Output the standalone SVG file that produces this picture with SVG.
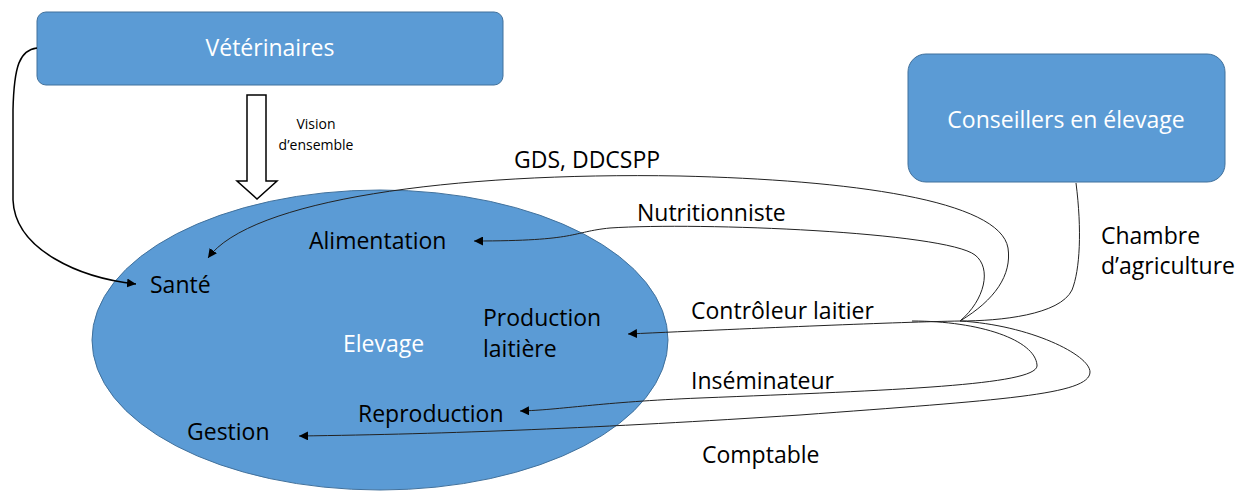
<svg xmlns="http://www.w3.org/2000/svg" width="1251" height="492" viewBox="0 0 1251 492">
<defs>
<style>
.box{fill:#5B9BD5;stroke:#41719C;stroke-width:1}
.wt{font-family:"Open Sans","Liberation Sans",sans-serif;font-size:23px;fill:#ffffff}
.lb{font-family:"Open Sans","Liberation Sans",sans-serif;font-size:23px;fill:#000000}
.sm{font-family:"Open Sans","Liberation Sans",sans-serif;font-size:14px;fill:#000000}
.cn{fill:none;stroke:#222;stroke-width:1}
</style>
<marker id="ah" viewBox="0 0 10 10" refX="10" refY="5" markerWidth="9" markerHeight="9" markerUnits="userSpaceOnUse" orient="auto">
<path d="M0,0 L10,5 L0,10 Z" fill="#000"/>
</marker>
</defs>
<rect width="1251" height="492" fill="#ffffff"/>
<g id="elevage">
<ellipse class="box" cx="380" cy="340" rx="288" ry="150"/>
<text class="wt" x="343" y="352">Elevage</text>
<text class="lb" x="150" y="293">Santé</text>
<text class="lb" x="309" y="249">Alimentation</text>
<text class="lb" x="483" y="326">Production</text>
<text class="lb" x="483" y="357">laitière</text>
<text class="lb" x="358" y="422">Reproduction</text>
<text class="lb" x="187" y="440">Gestion</text>
</g>
<g id="veterinaires">
<rect class="box" x="37" y="12" width="466" height="73" rx="9"/>
<text class="wt" x="270" y="56" text-anchor="middle">Vétérinaires</text>
</g>
<g id="conseillers">
<rect class="box" x="908" y="54" width="317" height="128" rx="18"/>
<text class="wt" x="1066" y="128" text-anchor="middle">Conseillers en élevage</text>
</g>
<g id="connectors">
<polygon points="247,95 266,95 266,181 277,181 257,199 237,181 247,181" fill="#fff" stroke="#000" stroke-width="1.5"/>
<path d="M37,48 C20,50 14,65 13,110 L13,200 C15,250 80,278 136,284" fill="none" stroke="#000" stroke-width="1.5" marker-end="url(#ah)"/>
<path class="cn" d="M960,321 C995,300 1012,275 1008,248 C1000,200 850,180 680,176 C450,172 250,200 208,258" marker-end="url(#ah)"/>
<path class="cn" d="M960,321 C985,300 992,268 975,255 C945,232 700,222 610,228 C570,232 580,241 474,241" marker-end="url(#ah)"/>
<path class="cn" d="M960,321 C900,322 760,328 628,334" marker-end="url(#ah)"/>
<path class="cn" d="M1076,183 C1082,230 1080,270 1072,290 C1060,315 1000,321 960,321"/>
<path class="cn" d="M912,321 C980,321 1035,340 1037,365 C1040,385 900,390 700,398 C600,402 560,410 520,411" marker-end="url(#ah)"/>
<path class="cn" d="M960,321 C1030,325 1090,355 1090,372 C1090,395 1000,400 800,415 C600,428 450,434 299,436" marker-end="url(#ah)"/>
<text class="sm" x="316" y="129" text-anchor="middle">Vision</text>
<text class="sm" x="316" y="150" text-anchor="middle">d’ensemble</text>
<text class="lb" x="514" y="168">GDS, DDCSPP</text>
<text class="lb" x="637" y="221">Nutritionniste</text>
<text class="lb" x="1101" y="244">Chambre</text>
<text class="lb" x="1101" y="274">d’agriculture</text>
<text class="lb" x="691" y="319">Contrôleur laitier</text>
<text class="lb" x="691" y="389">Inséminateur</text>
<text class="lb" x="702" y="463">Comptable</text>
</g>
</svg>
